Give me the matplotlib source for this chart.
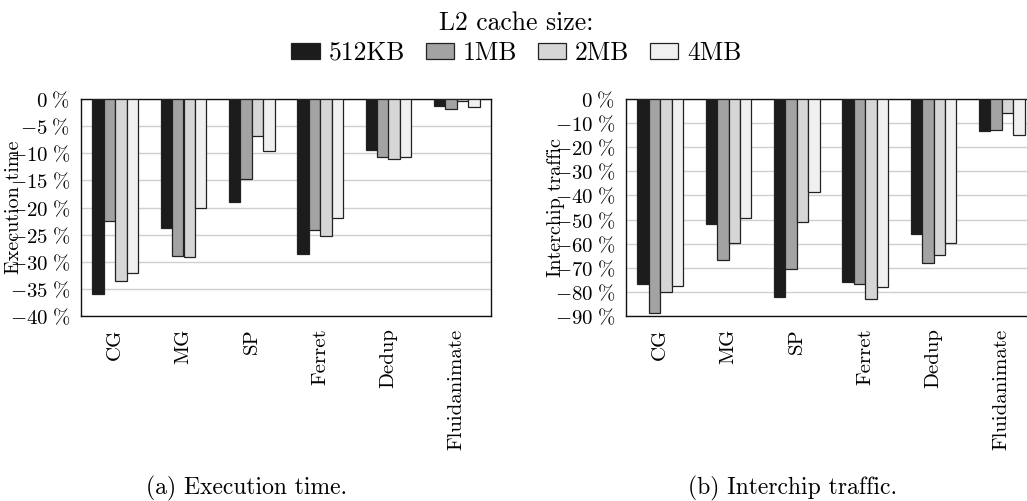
"""
Execution time and interchip traffic change vs. L2 cache size
"""

import matplotlib
matplotlib.use('Agg')
import matplotlib.pyplot as plt
from matplotlib.patches import Patch
from matplotlib.ticker import FuncFormatter, MultipleLocator
import numpy as np

plt.rcParams['font.family'] = 'serif'
plt.rcParams['font.serif'] = ['cmr10', 'DejaVu Serif']
plt.rcParams['mathtext.fontset'] = 'cm'
plt.rcParams['axes.formatter.use_mathtext'] = True

benchmarks = ['CG', 'MG', 'SP', 'Ferret', 'Dedup', 'Fluidanimate']
cache_sizes = ['512KB', '1MB', '2MB', '4MB']
bar_colors = ['#1c1c1c', '#a3a3a3', '#d6d6d6', '#f0f0f0']

# execution time change (%), one list per cache size
exec_512kb = [-36.0, -23.7, -19.0, -28.5, -9.4, -1.3]
exec_1mb = [-22.4, -28.9, -14.7, -24.2, -10.7, -1.8]
exec_2mb = [-33.5, -29.1, -6.9, -25.3, -11.0, -0.3]
exec_4mb = [-32.0, -20.1, -9.5, -21.9, -10.7, -1.5]

# interchip traffic change (%)
traffic_512kb = [-76.6, -51.9, -82.2, -76.0, -55.9, -13.4]
traffic_1mb = [-88.8, -66.8, -70.4, -76.6, -68.1, -12.9]
traffic_2mb = [-80.2, -59.6, -51.2, -83.1, -64.8, -5.8]
traffic_4mb = [-77.7, -49.4, -38.5, -78.0, -59.8, -15.1]

exec_data = [exec_512kb, exec_1mb, exec_2mb, exec_4mb]
traffic_data = [traffic_512kb, traffic_1mb, traffic_2mb, traffic_4mb]


def pct_fmt(v, pos):
    if abs(v) < 1e-9:
        return r'$0\;\%$'
    return r'$%d\;\%%$' % int(round(v))


def bar_panel(ax, data, ymin, ystep, ylabel, label_x):
    x = np.arange(len(benchmarks))
    w = 0.168
    for i, vals in enumerate(data):
        ax.bar(x + (i - 1.5) * w, vals, w, color=bar_colors[i],
               edgecolor='#222222', linewidth=0.9, zorder=3)
    ax.set_xlim(-0.5, len(benchmarks) - 0.5)
    ax.set_ylim(ymin, 0)
    ax.yaxis.set_major_locator(MultipleLocator(ystep))
    ax.yaxis.set_major_formatter(FuncFormatter(pct_fmt))
    ax.yaxis.grid(True, color='#d0d0d0', linewidth=1.0, zorder=0)
    ax.set_axisbelow(True)
    ax.set_xticks(x)
    ax.set_xticklabels(benchmarks, rotation=90, fontsize=15)
    ax.tick_params(axis='x', length=0, pad=9)
    ax.tick_params(axis='y', length=0, pad=8, labelsize=15)
    # the label sits over the tick labels, as in the original figure
    ax.set_ylabel(ylabel, fontsize=14.5)
    ax.yaxis.set_label_coords(label_x, 0.5)
    for sp in ax.spines.values():
        sp.set_linewidth(1.0)
        sp.set_color('#111111')


fig = plt.figure(figsize=(10.27, 5.01), dpi=100)
fig.set_facecolor('white')

ax1 = fig.add_axes([81 / 1027, 1 - 316 / 501, 410 / 1027, 217 / 501])
ax2 = fig.add_axes([626 / 1027, 1 - 316 / 501, 410 / 1027, 217 / 501])

bar_panel(ax1, exec_data, -40, 5, 'Execution time', -0.141)
bar_panel(ax2, traffic_data, -90, 10, 'Interchip traffic', -0.149)

handles = [Patch(facecolor=c, edgecolor='#222222', linewidth=0.9) for c in bar_colors]
leg = fig.legend(handles, cache_sizes, loc='upper center', bbox_to_anchor=(0.503, 1.014),
                 ncol=4, frameon=False, fontsize=18.5, title='L2 cache size:',
                 title_fontsize=18.5, handlelength=1.1, handleheight=0.6,
                 handletextpad=0.35, columnspacing=0.8, borderpad=0.2, labelspacing=0.25)

fig.text(247 / 1027, 1 - 488 / 501, '(a) Execution time.', ha='center', va='center', fontsize=17)
fig.text(793 / 1027, 1 - 488 / 501, '(b) Interchip traffic.', ha='center', va='center', fontsize=17)

plt.savefig('out.png', dpi=100)
plt.close()
